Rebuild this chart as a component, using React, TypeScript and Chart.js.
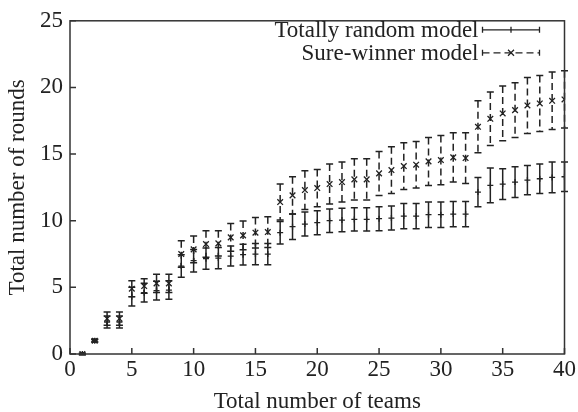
import React, { useEffect, useRef } from "react";
import { Chart, registerables } from "chart.js";

Chart.register(...registerables);

// ---------- data ----------
const teams = [
  1, 2, 3, 4, 5, 6, 7, 8, 9, 10, 11, 12, 13, 14, 15, 16, 17, 18, 19, 20,
  21, 22, 23, 24, 25, 26, 27, 28, 29, 30, 31, 32, 33, 34, 35, 36, 37, 38, 39, 40,
];
const randomMean = [
  0, 1.0, 2.4, 2.4, 4.3, 4.6, 4.75, 4.8, 6.6, 7.0, 7.15, 7.2, 7.35, 7.45, 7.5, 7.5,
  9.1, 9.55, 9.75, 9.85, 10.0, 10.05, 10.1, 10.1, 10.15, 10.2, 10.35, 10.35, 10.45, 10.45,
  10.5, 10.5, 12.15, 12.65, 12.75, 12.9, 13.05, 13.15, 13.25, 13.3,
];
const randomErr = [
  0.05, 0.1, 0.45, 0.45, 0.7, 0.7, 0.7, 0.7, 0.85, 0.85, 0.8, 0.8, 0.75, 0.78, 0.8, 0.8,
  0.85, 0.95, 0.9, 0.9, 0.88, 0.88, 0.88, 0.88, 0.9, 0.9, 0.95, 0.95, 0.95, 0.95,
  0.95, 0.95, 1.1, 1.3, 1.15, 1.15, 1.1, 1.1, 1.15, 1.1,
];
const sureMean = [
  0, 1.0, 2.65, 2.65, 4.9, 5.1, 5.3, 5.3, 7.5, 7.85, 8.25, 8.3, 8.75, 8.9, 9.1, 9.15,
  11.4, 11.9, 12.3, 12.45, 12.75, 12.9, 13.1, 13.1, 13.55, 13.8, 14.1, 14.2, 14.45, 14.55,
  14.75, 14.7, 17.05, 17.65, 18.05, 18.3, 18.65, 18.8, 19.0, 19.1,
];
const sureErr = [
  0.05, 0.1, 0.5, 0.5, 0.6, 0.55, 0.68, 0.68, 1.0, 1.0, 1.0, 0.95, 1.05, 1.08, 1.15, 1.15,
  1.35, 1.4, 1.45, 1.4, 1.5, 1.5, 1.55, 1.55, 1.65, 1.75, 1.75, 1.75, 1.8, 1.85,
  1.85, 1.9, 1.95, 2.0, 2.05, 2.05, 2.1, 2.1, 2.15, 2.15,
];
const xTickValues = [0, 5, 10, 15, 20, 25, 30, 35, 40];
const yTickValues = [0, 5, 10, 15, 20, 25];
const seriesLabels = ["Totally random model", "Sure-winner model"];
const xTitle = "Total number of teams";
const yTitle = "Total number of rounds";

const FONT = '"Liberation Serif", "Times New Roman", serif';
const INK = "#222";

const errorBarPlugin = {
  id: "errorBars",
  beforeDatasetsDraw(chart: any) {
    const { ctx, scales } = chart;
    const xs = scales.x;
    const ys = scales.y;
    const sets = [
      { mean: randomMean, err: randomErr, dash: [] as number[] },
      { mean: sureMean, err: sureErr, dash: [7, 4] },
    ];
    ctx.save();
    ctx.strokeStyle = INK;
    ctx.lineWidth = 1.5;
    sets.forEach((s) => {
      teams.forEach((t, i) => {
        const x = xs.getPixelForValue(t);
        const yTop = ys.getPixelForValue(s.mean[i] + s.err[i]);
        const yBot = ys.getPixelForValue(s.mean[i] - s.err[i]);
        ctx.setLineDash(s.dash);
        ctx.beginPath();
        ctx.moveTo(x, yTop);
        ctx.lineTo(x, yBot);
        ctx.stroke();
        ctx.setLineDash([]);
        ctx.beginPath();
        ctx.moveTo(x - 3.5, yTop);
        ctx.lineTo(x + 3.5, yTop);
        ctx.moveTo(x - 3.5, yBot);
        ctx.lineTo(x + 3.5, yBot);
        ctx.stroke();
      });
    });
    ctx.restore();
  },
  afterDraw(chart: any) {
    const { ctx, chartArea, scales } = chart;
    const { left, right, top, bottom } = chartArea;
    ctx.save();
    ctx.strokeStyle = "#333";
    ctx.lineWidth = 1.5;
    ctx.strokeRect(left, top, right - left, bottom - top);
    ctx.beginPath();
    xTickValues.forEach((v) => {
      const x = scales.x.getPixelForValue(v);
      ctx.moveTo(x, bottom);
      ctx.lineTo(x, bottom - 6);
    });
    yTickValues.forEach((v) => {
      const y = scales.y.getPixelForValue(v);
      ctx.moveTo(left, y);
      ctx.lineTo(left + 6, y);
    });
    ctx.stroke();

    // legend (gnuplot style key)
    ctx.font = `23px ${FONT}`;
    ctx.fillStyle = INK;
    ctx.textAlign = "right";
    ctx.textBaseline = "middle";
    const textRight = right - 86;
    const x0 = right - 82;
    const x1 = right - 25;
    const rows = [top + 9, top + 32];
    seriesLabels.forEach((lab, k) => {
      const y = rows[k];
      ctx.fillText(lab, textRight, y + 1);
      ctx.strokeStyle = INK;
      ctx.lineWidth = 1.3;
      ctx.setLineDash(k === 1 ? [7, 4] : []);
      ctx.beginPath();
      ctx.moveTo(x0, y);
      ctx.lineTo(x1, y);
      ctx.stroke();
      ctx.setLineDash([]);
      ctx.beginPath();
      ctx.moveTo(x0, y - 3);
      ctx.lineTo(x0, y + 3);
      ctx.moveTo(x1, y - 3);
      ctx.lineTo(x1, y + 3);
      const cx = (x0 + x1) / 2;
      if (k === 0) {
        ctx.moveTo(cx, y - 3);
        ctx.lineTo(cx, y + 3);
      } else {
        ctx.moveTo(cx - 3, y - 3);
        ctx.lineTo(cx + 3, y + 3);
        ctx.moveTo(cx + 3, y - 3);
        ctx.lineTo(cx - 3, y + 3);
      }
      ctx.stroke();
    });
    ctx.restore();
  },
};

export default function App() {
  const ref = useRef<HTMLCanvasElement | null>(null);
  useEffect(() => {
    if (!ref.current) return;
    const chart = new Chart(ref.current, {
      type: "scatter",
      data: {
        datasets: [
          {
            label: seriesLabels[0],
            data: teams.map((t, i) => ({ x: t, y: randomMean[i] })),
            pointStyle: "cross",
            pointRadius: 3,
            borderColor: INK,
            backgroundColor: INK,
            borderWidth: 1.3,
            showLine: false,
          },
          {
            label: seriesLabels[1],
            data: teams.map((t, i) => ({ x: t, y: sureMean[i] })),
            pointStyle: "crossRot",
            pointRadius: 4,
            borderColor: INK,
            backgroundColor: INK,
            borderWidth: 1.3,
            showLine: false,
          },
        ],
      },
      options: {
        animation: false,
        responsive: false,
        events: [],
        layout: { padding: { top: 14, right: 13, left: 0, bottom: 0 } },
        plugins: { legend: { display: false }, tooltip: { enabled: false } },
        scales: {
          x: {
            type: "linear",
            min: 0,
            max: 40,
            afterBuildTicks: (s: any) => {
              s.ticks = xTickValues.map((v) => ({ value: v }));
            },
            afterFit: (s: any) => {
              s.height = 58;
            },
            grid: { display: false, drawTicks: false },
            border: { display: false },
            ticks: {
              color: INK,
              padding: 2,
              maxRotation: 0,
              font: { family: FONT, size: 23 },
            },
            title: {
              display: true,
              text: xTitle,
              color: INK,
              font: { family: FONT, size: 23, lineHeight: 1 },
              padding: { top: 0, bottom: -1 },
            },
          },
          y: {
            type: "linear",
            min: 0,
            max: 25,
            afterBuildTicks: (s: any) => {
              s.ticks = yTickValues.map((v) => ({ value: v }));
            },
            afterFit: (s: any) => {
              s.width = 70;
            },
            grid: { display: false, drawTicks: false },
            border: { display: false },
            ticks: {
              color: INK,
              padding: 7,
              font: { family: FONT, size: 23 },
            },
            title: {
              display: true,
              text: yTitle,
              color: INK,
              font: { family: FONT, size: 23, lineHeight: 1 },
              padding: { top: 6, bottom: 0 },
            },
          },
        },
      },
      plugins: [errorBarPlugin],
    } as any);
    return () => chart.destroy();
  }, []);
  return (
    <div style={{ position: "absolute", left: 0, top: 0, width: 578, height: 412, background: "#fff" }}>
      <canvas ref={ref} width={578} height={412} style={{ width: 578, height: 412 }} />
    </div>
  );
}
